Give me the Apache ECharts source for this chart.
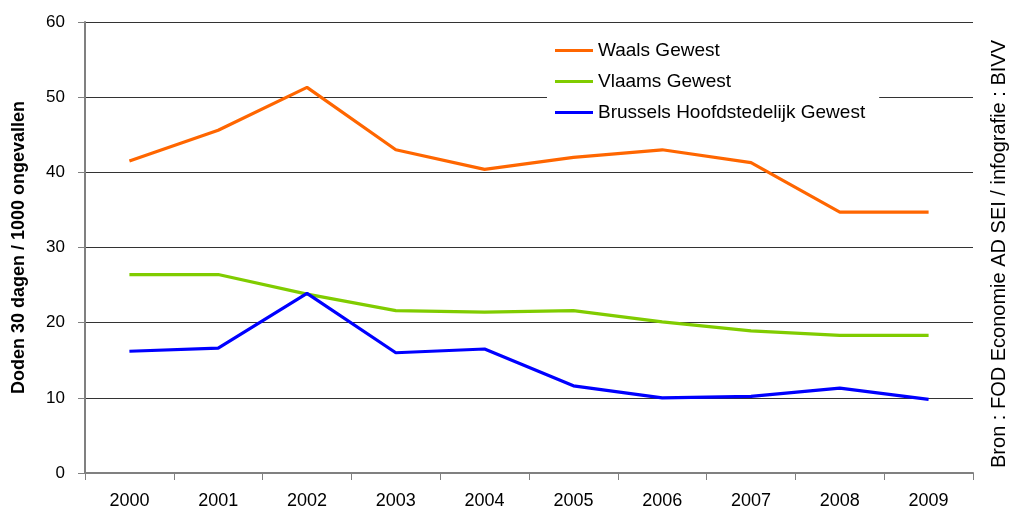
<!DOCTYPE html>
<html>
<head>
<meta charset="utf-8">
<script src="https://cdn.jsdelivr.net/npm/echarts@6/dist/echarts.min.js"></script>
<style>
  html, body { margin: 0; padding: 0; background: #fff; }
  #chart { width: 1011px; height: 511px; }
</style>
</head>
<body>
<div id="chart"></div>
<script>
// Verkeersdoden (30 dagen) per 1000 ongevallen, per gewest
const years = ['2000', '2001', '2002', '2003', '2004', '2005', '2006', '2007', '2008', '2009'];
const waals = [41.5, 45.6, 51.3, 43.0, 40.4, 42.0, 43.0, 41.3, 34.7, 34.7];
const vlaams = [26.4, 26.4, 23.8, 21.6, 21.4, 21.6, 20.1, 18.9, 18.3, 18.3];
const brussel = [16.2, 16.6, 23.9, 16.0, 16.5, 11.6, 10.0, 10.2, 11.3, 9.8];
const seriesNames = ['Waals Gewest', 'Vlaams Gewest', 'Brussels Hoofdstedelijk Gewest'];
const yAxisTitle = 'Doden 30 dagen / 1000 ongevallen';
const sourceNote = 'Bron : FOD Economie AD SEI / infografie : BIVV';

const FONT = '"Liberation Sans", Arial, sans-serif';
const chart = echarts.init(document.getElementById('chart'), null, { renderer: 'canvas' });

function lineSeries(name, data, color) {
  return {
    name: name,
    type: 'line',
    data: data,
    symbol: 'none',
    smooth: false,
    lineStyle: { color: color, width: 3.2 },
    itemStyle: { color: color },
    z: 3
  };
}

chart.setOption({
  animation: false,
  backgroundColor: '#fff',
  grid: { left: 85, right: 38, top: 22, bottom: 38, containLabel: false },
  legend: {
    orient: 'vertical',
    left: 547,
    top: 30,
    padding: [10, 14, 10, 8],
    backgroundColor: '#fff',
    itemGap: 10,
    itemWidth: 38,
    itemHeight: 3,
    icon: 'rect',
    textStyle: { fontFamily: FONT, fontSize: 19, color: '#000', lineHeight: 21, padding: [0, 0, 0, 0] },
    data: seriesNames,
    z: 10
  },
  xAxis: {
    type: 'category',
    data: years,
    boundaryGap: true,
    axisLine: { show: true, lineStyle: { color: '#808080', width: 2 } },
    axisTick: { show: true, alignWithLabel: false, length: 7, lineStyle: { color: '#808080', width: 1 } },
    axisLabel: { fontFamily: FONT, fontSize: 18, color: '#000', margin: 19 },
    splitLine: { show: false }
  },
  yAxis: {
    type: 'value',
    min: 0,
    max: 60,
    interval: 10,
    name: yAxisTitle,
    nameLocation: 'middle',
    nameGap: 57,
    nameRotate: 90,
    nameTextStyle: { fontFamily: FONT, fontSize: 18, fontWeight: 'bold', color: '#000' },
    axisLine: { show: true, lineStyle: { color: '#808080', width: 2 } },
    axisTick: { show: true, length: 7, lineStyle: { color: '#808080', width: 1 } },
    axisLabel: { fontFamily: FONT, fontSize: 17, color: '#000', margin: 20 },
    splitLine: { show: true, lineStyle: { color: '#333', width: 1 } }
  },
  graphic: [{
    type: 'text',
    x: 999,
    y: 254,
    rotation: Math.PI / 2,
    style: {
      text: sourceNote,
      fontFamily: FONT,
      fontSize: 20,
      fill: '#000',
      align: 'center',
      verticalAlign: 'middle'
    }
  }],
  series: [
    lineSeries(seriesNames[0], waals, '#FF6600'),
    lineSeries(seriesNames[1], vlaams, '#80CC00'),
    lineSeries(seriesNames[2], brussel, '#0000FF')
  ]
});
</script>
</body>
</html>
